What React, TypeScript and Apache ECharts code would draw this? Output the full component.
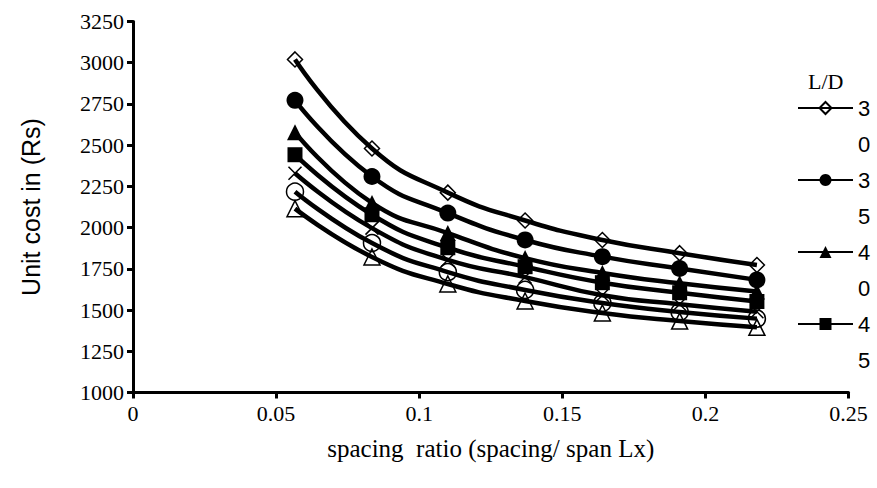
import React, { useEffect, useRef } from "react";
import * as echarts from "echarts";

const xValues = [0.0566, 0.0835, 0.110, 0.137, 0.164, 0.191, 0.218];
const seriesNames = ["30", "35", "40", "45", "50", "55", "60"];
const ld30 = [3020, 2480, 2212, 2043, 1925, 1845, 1773];
const ld35 = [2772, 2310, 2088, 1925, 1824, 1752, 1683];
const ld40 = [2578, 2150, 1967, 1815, 1725, 1662, 1612];
const ld45 = [2442, 2078, 1878, 1763, 1666, 1605, 1552];
const ld50 = [2330, 1997, 1804, 1700, 1590, 1535, 1490];
const ld55 = [2218, 1906, 1730, 1622, 1543, 1488, 1448];
const ld60 = [2115, 1822, 1658, 1555, 1482, 1433, 1395];
const legendNames = ["30", "35", "40", "45"];
const yTicks = { min: 1000, max: 3250, interval: 250 };
const xTicks = { min: 0, max: 0.25, interval: 0.05 };

const allValues = [ld30, ld35, ld40, ld45, ld50, ld55, ld60];

const markers = [
  { symbol: "diamond", size: 15, fill: "rgba(0,0,0,0)" },
  { symbol: "circle", size: 17, fill: "#000" },
  { symbol: "triangle", size: 16, fill: "#000" },
  { symbol: "rect", size: 15, fill: "#000" },
  { symbol: "path://M0 0 L10 10 M10 0 L0 10", size: 13, fill: "rgba(0,0,0,0)" },
  { symbol: "circle", size: 17, fill: "rgba(0,0,0,0)" },
  { symbol: "triangle", size: 16, fill: "rgba(0,0,0,0)" },
];

export default function App() {
  const ref = useRef<HTMLDivElement>(null);
  useEffect(() => {
    if (!ref.current) return;
    const chart = echarts.init(ref.current, undefined, { renderer: "svg" });
    const L = 36;
    const series = allValues.map((vals, i) => ({
      name: seriesNames[i],
      type: "line",
      smooth: true,
      data: vals.map((v, j) => [xValues[j], v]),
      symbol: markers[i].symbol,
      symbolSize: markers[i].size,
      showAllSymbol: true,
      lineStyle: { color: "#000", width: 4.5 },
      itemStyle: {
        color: markers[i].fill,
        borderColor: "#000",
        borderWidth: markers[i].fill === "#000" ? 0 : 1.5,
      },
      emphasis: { disabled: true },
    }));
    chart.setOption({
      animation: false,
      backgroundColor: "#fff",
      title: {
        text: "L/D",
        left: 808,
        top: 70,
        padding: 0,
        textStyle: {
          fontFamily: "Liberation Serif",
          fontSize: 22,
          fontWeight: "normal",
          color: "#000",
        },
      },
      grid: { left: 133, right: 28.5, top: 21.5, bottom: 95.5, containLabel: false },
      xAxis: {
        type: "value",
        min: xTicks.min,
        max: xTicks.max,
        interval: xTicks.interval,
        name: "spacing  ratio (spacing/ span Lx)",
        nameLocation: "middle",
        nameGap: 43,
        nameTextStyle: { fontFamily: "Liberation Serif", fontSize: 25, color: "#000" },
        axisLine: { lineStyle: { color: "#000", width: 3 } },
        axisTick: { show: true, inside: false, length: 6, lineStyle: { color: "#000", width: 3 } },
        axisLabel: {
          margin: 10,
          fontFamily: "Liberation Serif",
          fontSize: 22,
          color: "#000",
          formatter: (v: number) => String(Number(v.toFixed(2))),
        },
        splitLine: { show: false },
      },
      yAxis: {
        type: "value",
        min: yTicks.min,
        max: yTicks.max,
        interval: yTicks.interval,
        name: "Unit cost in (Rs)",
        nameLocation: "middle",
        nameRotate: 90,
        nameGap: 90,
        nameTextStyle: { fontFamily: "Liberation Sans", fontSize: 25, color: "#000" },
        axisLine: { show: true, lineStyle: { color: "#000", width: 3 } },
        axisTick: { show: true, inside: false, length: 6, lineStyle: { color: "#000", width: 3 } },
        axisLabel: {
          margin: 9,
          fontFamily: "Liberation Serif",
          fontSize: 22,
          color: "#000",
          formatter: (v: number) => String(v),
        },
        splitLine: { show: false },
      },
      legend: {
        data: legendNames,
        orient: "vertical",
        left: 797,
        top: 108 - 1.5 * L,
        padding: 0,
        itemWidth: 55,
        itemHeight: 15,
        itemGap: -L,
        selectedMode: false,
        formatter: (name: string) => " \n" + name.split("").join("\n"),
        textStyle: {
          fontFamily: "Liberation Sans",
          fontSize: 22,
          lineHeight: L,
          color: "#000",
        },
      },
      series,
    });
    return () => chart.dispose();
  }, []);
  return (
    <div
      ref={ref}
      style={{ position: "fixed", left: 0, top: 0, width: 877, height: 488 }}
    />
  );
}
